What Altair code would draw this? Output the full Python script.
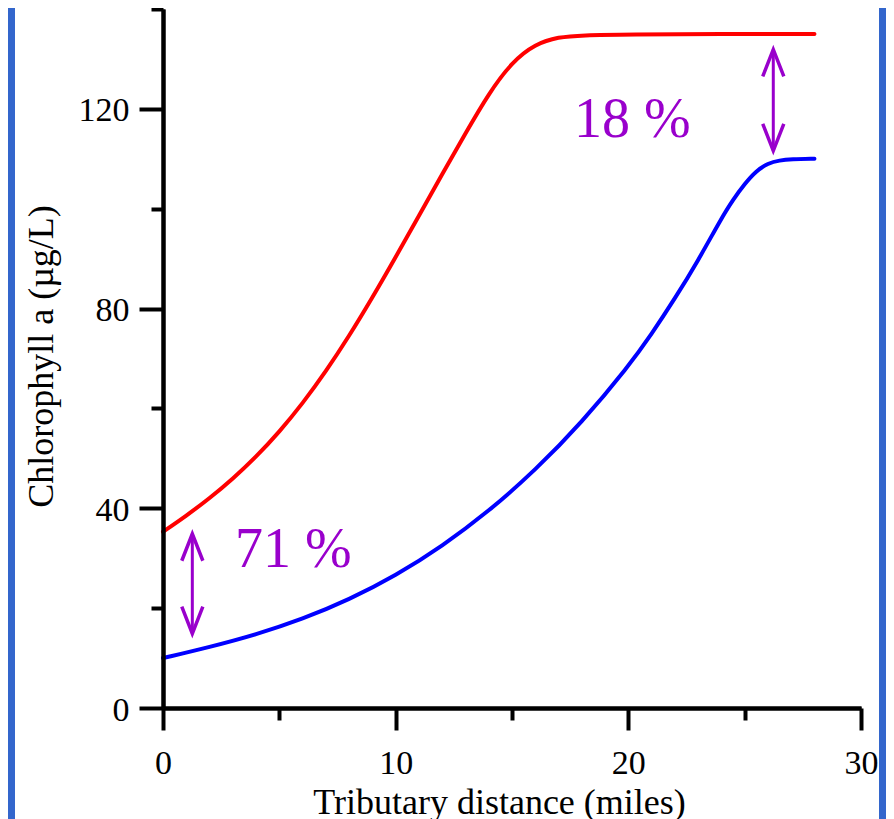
import altair as alt
import pandas as pd

# ---- data ----
red_x = [0, 1, 2, 3, 4, 5, 6, 7, 8, 9, 10, 11, 12, 13, 14, 15, 16, 17, 18, 20, 24, 28]
red_y = [35.3, 38.5, 42.0, 45.9, 50.3, 55.3, 61.0, 67.4, 74.5, 82.2, 90.3, 98.6, 106.9,
         115.1, 123.1, 129.4, 133.0, 134.4, 134.75, 134.9, 135.0, 135.0]

blue_x = [0, 2, 4, 6, 8, 10, 12, 14, 16, 18, 20, 21, 22, 23, 24, 24.5, 25, 25.5, 26,
          26.5, 27, 28]
blue_y = [10.0, 12.2, 14.7, 17.8, 21.7, 26.5, 32.4, 39.4, 47.6, 57.2, 68.4, 74.9, 82.0,
          89.6, 98.1, 101.8, 105.0, 107.6, 109.1, 109.7, 109.9, 110.0]

x_major = [0, 10, 20, 30]
x_minor = [5, 15, 25]
y_major = [0, 40, 80, 120]
y_minor = [20, 60, 100, 140]

note_text = ["71 %", "18 %"]
note_x = [3.09, 17.66]
note_y = [28.2, 114.4]

arrow_x = [1.26, 26.23]
arrow_lo = [14.9, 111.6]
arrow_hi = [34.9, 131.9]

RED = "#FF0000"
BLUE = "#0000FF"
PURPLE = "#9900CC"
FONT = "Liberation Serif"

lines = pd.DataFrame({
    "x": red_x + blue_x,
    "y": red_y + blue_y,
    "series": ["high"] * len(red_x) + ["low"] * len(blue_x),
})
notes = pd.DataFrame({"x": note_x, "y": note_y, "t": note_text})
arrows = pd.DataFrame({"x": arrow_x, "lo": arrow_lo, "hi": arrow_hi})

xs = alt.Scale(domain=[0, 30], nice=False, zero=False)
ys = alt.Scale(domain=[0, 140], nice=False, zero=False)

common = dict(
    zindex=1, grid=False,
    domainColor="black", domainWidth=4,
    tickColor="black", tickWidth=4,
    labelFont=FONT, labelFontSize=34, labelColor="black",
    labelFlush=False, labelOverlap=False, labelBound=False,
    titleFont=FONT, titleFontSize=36, titleFontWeight="normal", titleColor="black",
)

bg = alt.Chart(alt.Data(values=[{}])).mark_rect(color="white").encode(
    x=alt.value(-148), x2=alt.value(716), y=alt.value(-2), y2=alt.value(840)
)

minor = alt.Chart(lines).mark_point(opacity=0).encode(
    x=alt.X("x:Q", scale=xs, axis=alt.Axis(orient="bottom", values=x_minor, tickSize=12,
                                          labels=False, title=None, **common)),
    y=alt.Y("y:Q", scale=ys, axis=alt.Axis(orient="left", values=y_minor, tickSize=12,
                                          labels=False, title=None, **common)),
)

main = alt.Chart(lines).mark_line(strokeWidth=4, interpolate="basis", strokeCap="round").encode(
    x=alt.X("x:Q", scale=xs, axis=alt.Axis(
        orient="bottom", values=x_major, tickSize=22, labelPadding=43,
        labelBaseline="alphabetic", title="Tributary distance (miles)",
        titleX=336, titleY=105, titleAlign="center", titleBaseline="alphabetic", **common)),
    y=alt.Y("y:Q", scale=ys, axis=alt.Axis(
        orient="left", values=y_major, tickSize=24, labelPadding=10,
        labelBaseline="alphabetic", labelOffset=12, title="Chlorophyll a (µg/L)",
        titleX=-111, titleY=347, titleAngle=270, titleAlign="center",
        titleBaseline="alphabetic", **common)),
    color=alt.Color("series:N", scale=alt.Scale(domain=["high", "low"], range=[RED, BLUE]),
                    legend=None),
)

rule = alt.Chart(arrows).mark_rule(color=PURPLE, strokeWidth=3).encode(
    x=alt.X("x:Q", scale=xs, axis=None),
    y=alt.Y("lo:Q", scale=ys, axis=None),
    y2="hi:Q",
)
head_up = alt.Chart(arrows).mark_point(
    shape="M -0.78 2 L 0 0 L 0.78 2", size=729, filled=False, strokeWidth=3.5,
    color=PURPLE, opacity=1,
).encode(x=alt.X("x:Q", scale=xs, axis=None), y=alt.Y("hi:Q", scale=ys, axis=None))
head_dn = alt.Chart(arrows).mark_point(
    shape="M -0.78 -2 L 0 0 L 0.78 -2", size=729, filled=False, strokeWidth=3.5,
    color=PURPLE, opacity=1,
).encode(x=alt.X("x:Q", scale=xs, axis=None), y=alt.Y("lo:Q", scale=ys, axis=None))

text = alt.Chart(notes).mark_text(
    align="left", baseline="alphabetic", font=FONT, fontSize=56, color=PURPLE,
).encode(
    x=alt.X("x:Q", scale=xs, axis=None),
    y=alt.Y("y:Q", scale=ys, axis=None),
    text="t:N",
)

chart = alt.layer(bg, minor, main, rule, head_up, head_dn, text).resolve_axis(
    x="independent", y="independent"
).properties(
    width=698, height=699,
    autosize=alt.AutoSizeParams(type="none"),
    padding={"left": 155, "top": 1, "right": 25, "bottom": 120},
    background="#3366CC",
).configure_view(stroke=None)

chart.save("out.html", embed_options={"renderer": "svg", "actions": False})
